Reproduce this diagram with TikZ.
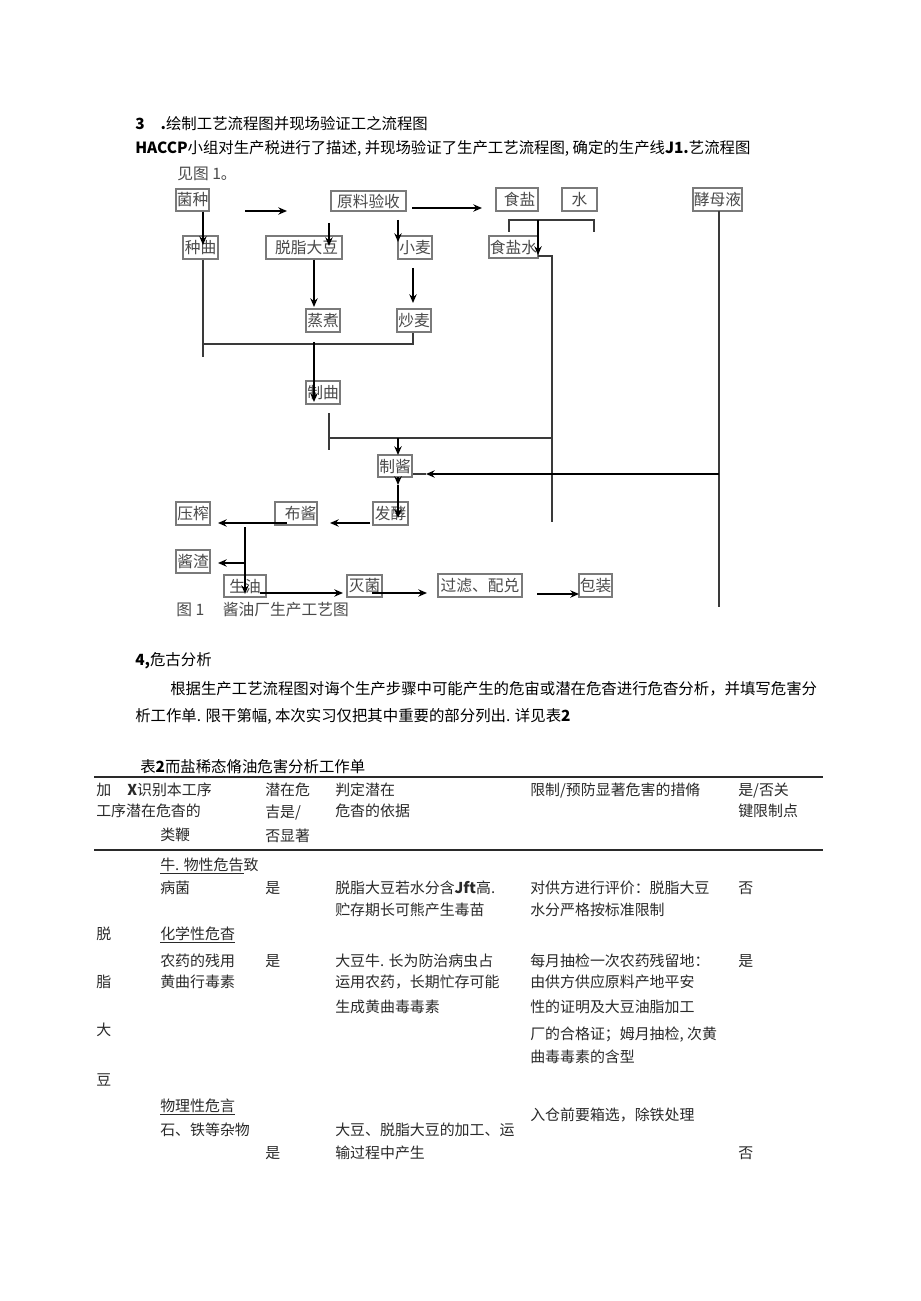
\documentclass[tikz,border=0pt]{standalone}
\usepackage{fontspec}
\setmainfont{Noto Sans CJK SC}
\usetikzlibrary{arrows.meta}
\definecolor{boxgray}{HTML}{7A7A7A}
\definecolor{flowtext}{HTML}{4A4A4A}
\definecolor{linegray}{HTML}{3A3A3A}
\definecolor{tgray}{HTML}{2A2A2A}
\newcommand{\ffs}{\fontsize{11.8pt}{13pt}\selectfont}
\newcommand{\tfs}{\fontsize{11.2pt}{13pt}\selectfont}
\newcommand{\hfs}{\fontsize{11.55pt}{13pt}\selectfont}
\begin{document}
\begin{tikzpicture}[x=0.75pt,y=-0.75pt,
  fbox/.style={draw=boxgray, line width=0.8pt, inner sep=0pt, text=flowtext, font=\ffs},
  bx/.style 2 args={minimum width=#1*0.75pt, minimum height=#2*0.75pt},
  arr/.style={-{Stealth[length=6.5pt,width=5.5pt]}, line width=1.1pt, draw=black},
  ln/.style={line width=1.1pt, draw=linegray},
  tt/.style={anchor=west, inner sep=0pt, text height=0.88em, text depth=0.12em, font=\tfs, text=tgray},
  hd/.style={anchor=west, inner sep=0pt, text height=0.88em, text depth=0.12em, font=\hfs, text=black},
  captxt/.style={anchor=west, inner sep=0pt, text height=0.88em, text depth=0.12em, font=\ffs, text=flowtext},
  rule/.style={line width=0.8pt, draw=tgray}
]
\useasboundingbox (0,0) rectangle (920,1301);
\fill[white] (0,0) rectangle (920,1301);

% ---------- heading text ----------
\node[hd] (h1) at (135,124) {\textbf{3}\hspace{12pt}\textbf{.}绘制工艺流程图并现场验证工之流程图};
\node[hd] (h2) at (135,148) {\textbf{HACCP}小组对生产税进行了描述, 并现场验证了生产工艺流程图, 确定的生产线\textbf{J1.}艺流程图};
\node[captxt] (seefig) at (177,174) {见图 1。};

% ---------- flowchart boxes ----------
\node[fbox, bx={33}{22}] (junzhong) at (192.5,200) {菌种};
\node[fbox, bx={75}{20}] (yuanliao) at (368.5,201) {原料验收};
\node[fbox, bx={42}{23}] (shiyan) at (517,199.5) {\hspace{4pt}食盐};
\node[fbox, bx={35}{23}] (shui) at (579.5,199.5) {水};
\node[fbox, bx={49}{23}] (jiaomu) at (717.5,199.5) {酵母液};
\node[fbox, bx={35}{23}] (zhongqu) at (200.5,247.5) {种曲};
\node[fbox, bx={76}{23}] (tuozhi) at (304,247.5) {\hspace{4pt}脱脂大豆};
\node[fbox, bx={34}{23}] (xiaomai) at (415,247.5) {小麦};
\node[fbox, bx={49}{22}] (shiyanshui) at (513.5,247) {食盐水};
\node[fbox, bx={34}{23}] (zhengzhu) at (323,320.5) {蒸煮};
\node[fbox, bx={34}{23}] (chaomai) at (414,320.5) {炒麦};
\node[fbox, bx={34}{23}] (zhiqu) at (323,392.5) {制曲};
\node[fbox, bx={34}{22}] (zhijiang) at (395,466) {制酱};
\node[fbox, bx={35}{23}] (fajiao) at (390.5,513.5) {发酵};
\node[fbox, bx={42}{23}] (bujiang) at (296,513.5) {\hspace{7pt}布酱};
\node[fbox, bx={34}{23}] (yazha) at (193,513.5) {压榨};
\node[fbox, bx={34}{23}] (jiangzha) at (193,561.5) {酱渣};
\node[fbox, bx={42}{22}] (shengyou) at (245,586) {生油\hspace{8pt}};
\node[fbox, bx={35}{22}] (miejun) at (364.5,586) {灭菌};
\node[fbox, bx={84}{23}] (guolv) at (480,585.5) {过滤、配兑};
\node[fbox, bx={33}{23}] (baozhuang) at (595.5,585.5) {包装};
\node[captxt] (caption) at (176,610) {图 1\hspace{14pt}酱油厂生产工艺图};

% ---------- coordinates ----------
\coordinate (fa1) at (245,211); \coordinate (fa2) at (287,211);
\coordinate (fb1) at (412,208); \coordinate (fb2) at (482,208);
\coordinate (jz) at (203,245);
\coordinate (tz1) at (329,223); \coordinate (tz2) at (329,246);
\coordinate (xm1) at (398,220); \coordinate (xm2) at (398,242);
\coordinate (zz) at (314,307);
\coordinate (cm1) at (413,268); \coordinate (cm2) at (413,303);
\coordinate (mL) at (203,344); \coordinate (mB) at (203,357);
\coordinate (mR) at (413,344); \coordinate (mM) at (314,342);
\coordinate (zq) at (314,402);
\coordinate (z1) at (329,413); \coordinate (z2) at (329,450);
\coordinate (zj) at (329,438); \coordinate (sR) at (552,438);
\coordinate (k1) at (509,232); \coordinate (k2) at (509,220);
\coordinate (k3) at (594,220); \coordinate (k4) at (594,232);
\coordinate (kA) at (538,220); \coordinate (kB) at (538,255);
\coordinate (s1) at (538,256); \coordinate (s2) at (552,256); \coordinate (s3) at (552,522);
\coordinate (d1) at (398,438); \coordinate (d2) at (398,455);
\coordinate (e1) at (398,477); \coordinate (e2) at (398,485); \coordinate (e3) at (398,518);
\coordinate (y1) at (719,211); \coordinate (y2) at (719,607);
\coordinate (yh) at (719,474); \coordinate (yt) at (426,474);
\coordinate (f1) at (370,523); \coordinate (f2) at (330,523);
\coordinate (b1) at (287,523); \coordinate (b2) at (218,523);
\coordinate (v1) at (245,527); \coordinate (v2) at (245,594);
\coordinate (vz) at (245,563); \coordinate (vz2) at (218,563);
\coordinate (g1) at (260,593); \coordinate (g2) at (343,593);
\coordinate (g3) at (372,593); \coordinate (g4) at (427,593);
\coordinate (g5) at (537,594); \coordinate (g6) at (579,594);

% ---------- connectors ----------
\draw[arr] (fa1) -- (fa2);
\draw[arr] (fb1) -- (fb2);
\draw[arr] (junzhong.south -| jz) -- (jz);
\draw[arr] (tz1) -- (tz2);
\draw[arr] (xm1) -- (xm2);
\draw[arr] (tuozhi.south -| zz) -- (zz);
\draw[arr] (cm1) -- (cm2);
\draw[ln] (zhongqu.south -| mL) -- (mB);
\draw[ln] (mL) -- (mR) -- (chaomai.south -| mR);
\draw[arr] (mM) -- (zq);
\draw[ln] (z1) -- (z2);
\draw[ln] (zj) -- (sR);
\draw[ln] (k1) -- (k2) -- (k3) -- (k4);
\draw[arr] (kA) -- (kB);
\draw[ln] (s1) -- (s2) -- (s3);
\draw[arr] (d1) -- (d2);
\draw[arr] (e1) -- (e2);
\draw[arr] (e2) -- (e3);
\draw[ln] (y1) -- (y2);
\draw[arr] (yh) -- (yt);
\draw[ln] (yt) -- (zhijiang.east |- yt);
\draw[arr] (f1) -- (f2);
\draw[arr] (b1) -- (b2);
\draw[arr] (v1) -- (v2);
\draw[arr] (vz) -- (vz2);
\draw[arr] (g1) -- (g2);
\draw[arr] (g3) -- (g4);
\draw[arr] (g5) -- (g6);

% ---------- section 4 ----------
\node[hd] (s4) at (135,660) {\textbf{4,}危古分析};
\node[hd] (p1) at (170,689) {根据生产工艺流程图对诲个生产步骤中可能产生的危宙或潜在危杳进行危杳分析，并填写危害分};
\node[hd] (p2) at (135,716) {析工作单. 限干第幅, 本次实习仅把其中重要的部分列出. 详见表\textbf{2}};
\node[hd] (tcap) at (140,767) {表\textbf{2}而盐稀态脩油危害分析工作单};

% ---------- table ----------
\draw[rule] (94,777) -- (823,777);
\draw[rule] (94,850) -- (823,850);

\node[tt] (r1a) at (96,790) {加};
\node[tt] (r1b) at (127,790) {\textbf{X}识别本工序};
\node[tt] (r2a) at (96,811) {工序潜在危杳的};
\node[tt] (r3a) at (160,835) {类鞭};
\node[tt] (c3a) at (265,790) {潜在危};
\node[tt] (c3b) at (265,812) {吉是/};
\node[tt] (c3c) at (265,836) {否显著};
\node[tt] (c4a) at (335,790) {判定潜在};
\node[tt] (c4b) at (335,811) {危杳的依据};
\node[tt] (c5a) at (530,790) {限制/预防显著危害的措脩};
\node[tt] (c6a) at (738,790) {是/否关};
\node[tt] (c6b) at (738,811) {键限制点};

\node[tt] (b1a) at (160,865) {\underline{牛. 物性危告}致};
\node[tt] (b1b) at (160,888) {病菌};
\node[tt] (b1c) at (265,888) {是};
\node[tt] (b1d) at (335,888) {脱脂大豆若水分含\textbf{Jft}高.};
\node[tt] (b1e) at (530,888) {对供方进行评价：脱脂大豆};
\node[tt] (b1f) at (738,888) {否};
\node[tt] (b1g) at (335,910) {贮存期长可熊产生毒苗};
\node[tt] (b1h) at (530,910) {水分严格按标准限制};

\node[tt] (v1a) at (96,934) {脱};
\node[tt] (b2a) at (160,934) {\underline{化学性危杳}};
\node[tt] (b2b) at (160,961) {农药的残用};
\node[tt] (b2c) at (265,961) {是};
\node[tt] (b2d) at (335,961) {大豆牛. 长为防治病虫占};
\node[tt] (b2e) at (530,961) {每月抽检一次农药残留地：};
\node[tt] (b2f) at (738,961) {是};
\node[tt] (v1b) at (96,982) {脂};
\node[tt] (b2g) at (160,982) {黄曲行毒素};
\node[tt] (b2h) at (335,982) {运用农药，长期忙存可能};
\node[tt] (b2i) at (530,982) {由供方供应原料产地平安};
\node[tt] (b2j) at (335,1007) {生成黄曲毒毒素};
\node[tt] (b2k) at (530,1007) {性的证明及大豆油脂加工};
\node[tt] (v1c) at (96,1030) {大};
\node[tt] (b2l) at (530,1034) {厂的合格证；姆月抽检, \textit{次}黄};
\node[tt] (b2m) at (530,1057) {曲毒毒素的含型};
\node[tt] (v1d) at (96,1080) {豆};

\node[tt] (b3a) at (160,1106) {\underline{物理性危言}};
\node[tt] (b3b) at (160,1130) {石、铁等杂物};
\node[tt] (b3c) at (335,1130) {大豆、脱脂大豆的加工、运};
\node[tt] (b3d) at (530,1115) {入仓前要箱选，除铁处理};
\node[tt] (b3e) at (265,1153) {是};
\node[tt] (b3f) at (335,1153) {输过程中产生};
\node[tt] (b3g) at (738,1153) {否};
\end{tikzpicture}
\end{document}
